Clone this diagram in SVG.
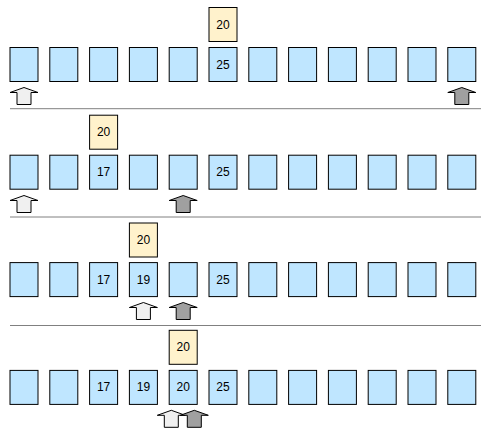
<svg xmlns="http://www.w3.org/2000/svg" width="487" height="436" viewBox="0 0 487 436">
<style>
.c{fill:#bfe6ff;stroke:#000;stroke-width:1}
.y{fill:#fff2cc;stroke:#000;stroke-width:1}
.t{font-family:"Liberation Sans",Arial,sans-serif;font-size:12px;fill:#000;text-anchor:middle;dominant-baseline:central}
.w{fill:#f0f0f0;stroke:#000;stroke-width:1}
.g{fill:#a0a0a0;stroke:#000;stroke-width:1}
.sep{stroke:#808080;stroke-width:1}
</style>
<defs>
<rect id="cell" class="c" width="28" height="34"/>
<path id="arr" d="M0,0 L14,5 L7,5 L7,17 L-7,17 L-7,5 L-14,5 Z"/>
<g id="row">
<use href="#cell" x="10"/><use href="#cell" x="49.8"/><use href="#cell" x="89.6"/><use href="#cell" x="129.4"/><use href="#cell" x="169.2"/><use href="#cell" x="209"/><use href="#cell" x="248.8"/><use href="#cell" x="288.6"/><use href="#cell" x="328.4"/><use href="#cell" x="368.2"/><use href="#cell" x="408"/><use href="#cell" x="447.8"/>
</g>
</defs>
<g id="connectors">
<line class="sep" x1="10" y1="108.7" x2="481" y2="108.7"/>
<line class="sep" x1="10" y1="217" x2="481" y2="217"/>
<line class="sep" x1="10" y1="325.5" x2="481" y2="325.5"/>
</g>
<g id="step1" transform="translate(0,0)">
<g id="s1-cells"><use href="#row" y="47.5"/><text class="t" x="223" y="64.5">25</text></g>
<g id="s1-key"><rect class="y" x="209" y="7.5" width="28" height="34"/><text class="t" x="223" y="24.5">20</text></g>
<g id="s1-lo"><use href="#arr" class="w" x="24" y="87.5"/></g>
<g id="s1-hi"><use href="#arr" class="g" x="461.8" y="87.5"/></g>
</g>
<g id="step2">
<g id="s2-cells"><use href="#row" y="155.2"/><text class="t" x="103.6" y="172.2">17</text><text class="t" x="223" y="172.2">25</text></g>
<g id="s2-key"><rect class="y" x="89.6" y="115.2" width="28" height="34"/><text class="t" x="103.6" y="132.2">20</text></g>
<g id="s2-lo"><use href="#arr" class="w" x="24" y="195.5"/></g>
<g id="s2-hi"><use href="#arr" class="g" x="183.2" y="195.5"/></g>
</g>
<g id="step3">
<g id="s3-cells"><use href="#row" y="262.6"/><text class="t" x="103.6" y="279.6">17</text><text class="t" x="143.4" y="279.6">19</text><text class="t" x="223" y="279.6">25</text></g>
<g id="s3-key"><rect class="y" x="129.4" y="223" width="28" height="34"/><text class="t" x="143.4" y="240">20</text></g>
<g id="s3-lo"><use href="#arr" class="w" x="143.4" y="302.5"/></g>
<g id="s3-hi"><use href="#arr" class="g" x="183.2" y="302.5"/></g>
</g>
<g id="step4">
<g id="s4-cells"><use href="#row" y="370.4"/><text class="t" x="103.6" y="387.4">17</text><text class="t" x="143.4" y="387.4">19</text><text class="t" x="183.2" y="387.4">20</text><text class="t" x="223" y="387.4">25</text></g>
<g id="s4-key"><rect class="y" x="169.2" y="330.3" width="28" height="34"/><text class="t" x="183.2" y="347.3">20</text></g>
<g id="s4-lo"><use href="#arr" class="w" x="171.3" y="410.3"/></g>
<g id="s4-hi"><use href="#arr" class="g" x="194.3" y="410.3"/></g>
</g>
</svg>
